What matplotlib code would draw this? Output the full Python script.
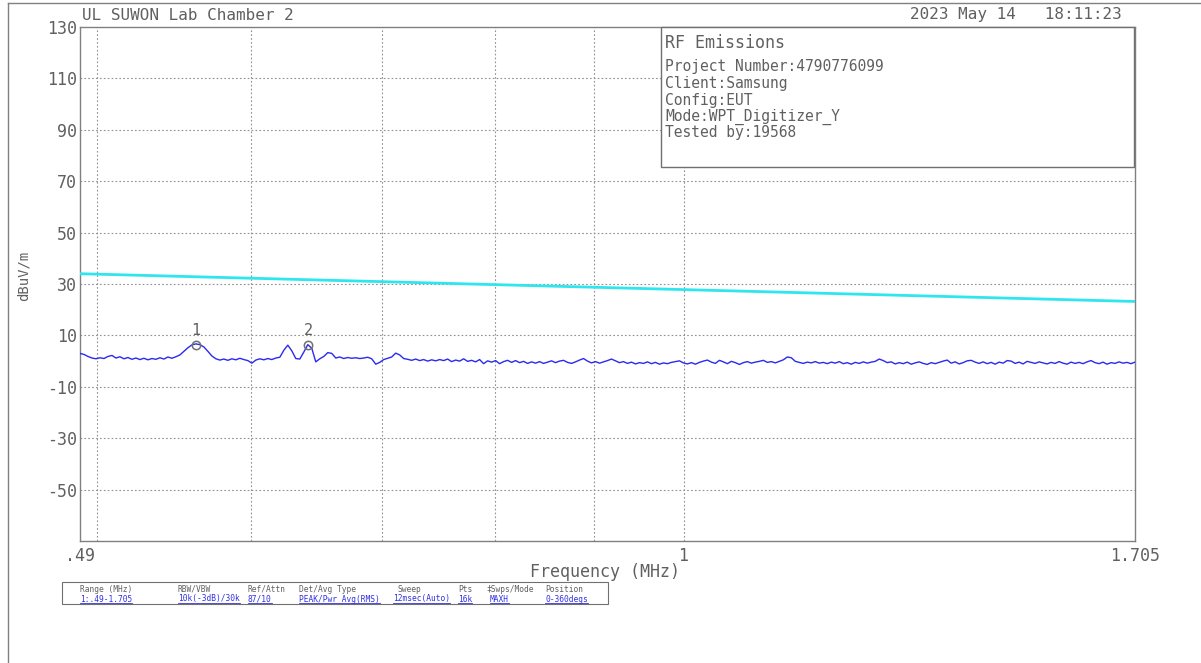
import numpy as np
import matplotlib.pyplot as plt
from matplotlib.patches import Rectangle
from matplotlib.lines import Line2D

plt.rcParams['font.family'] = ['DejaVu Sans Mono', 'DejaVu Sans']

# sweep settings
f_start, f_stop = 0.49, 1.705
y_min, y_max = -70, 130

# limit line (dBuV/m) at start and stop of the sweep
limit_freq = [0.49, 1.705]
limit_level = [34.0, 23.2]

# max-hold trace, read on a log-spaced frequency grid
trace_level = [
    3.0, 2.6, 1.8, 1.2, 0.9, 1.3, 1.0, 1.8, 2.2, 1.2, 1.7, 0.9,
    1.4, 0.7, 1.2, 0.6, 1.1, 0.5, 1.0, 0.7, 1.3, 0.8, 1.6, 1.1,
    1.7, 2.4, 3.8, 5.2, 6.3, 6.7, 6.4, 5.5, 3.8, 2.0, 0.9, 0.4,
    0.8, 0.3, 0.9, 0.5, 1.1, 0.6, 0.2, -0.8, 0.4, 0.9, 0.5, 1.0,
    0.6, 1.2, 1.5, 4.2, 6.2, 4.0, 1.0, 0.8, 3.5, 6.4, 5.0, -0.3,
    0.9, 1.8, 3.3, 3.0, 1.2, 1.6, 1.0, 1.4, 1.1, 1.3, 1.0, 1.2,
    1.5, 0.9, -1.2, -0.5, 0.6, 1.1, 1.6, 3.1, 2.4, 1.0, 0.7, 0.3,
    0.8, 0.2, 0.6, 0.0, 0.5, 0.1, 0.6, 0.2, 0.8, -0.2, 0.4, 0.0,
    0.9, -0.1, 0.3, -0.3, 0.6, -1.0, 0.1, -0.4, 0.2, -1.0, -0.2, 0.3,
    -0.5, 0.2, -0.6, -0.1, -0.9, -0.3, -0.8, -0.2, -0.9, -0.4, 0.1, -0.6,
    0.0, 0.3, -0.5, -0.9, -0.3, 0.4, 1.0, 0.0, -0.7, -0.2, -0.8, -0.3,
    0.2, 0.8, 0.1, -0.6, -0.2, -0.9, -0.4, -1.1, -0.6, -0.9, -0.3, -1.0,
    -0.5, -1.2, -0.7, -1.0, -0.5, -0.2, 0.1, -0.7, -1.1, -0.6, -1.2, -0.5,
    0.0, 0.4, -0.4, -0.9, 0.3, -0.3, -1.0, -0.1, -0.6, -1.3, -0.6, -0.2,
    -0.8, -0.4, -0.1, 0.3, -0.5, -0.2, -0.7, -0.1, 0.5, 1.6, 1.3, -0.1,
    -0.5, -0.9, -0.4, -0.7, -0.2, -0.8, -0.5, -1.0, -0.4, -0.8, -0.2, -1.0,
    -0.6, -1.2, -0.5, -0.9, -0.3, -0.8, -0.4, -0.1, 0.8, 0.2, -0.6, -0.3,
    -1.1, -0.6, -1.0, -0.4, -1.2, -0.7, -0.3, -0.9, -1.3, -0.6, -1.0, -0.5,
    0.0, 0.4, -0.8, -0.3, -1.1, -0.6, 0.1, 0.3, -0.4, -0.9, -0.3, -1.0,
    -0.5, -1.2, -0.4, -0.8, 0.2, 0.0, -0.9, -0.4, -1.1, -0.1, -0.5, -0.9,
    -0.3, -0.7, -1.1, -0.5, -0.9, -0.2, -0.8, -1.2, -0.4, -0.9, -0.5, -1.0,
    -0.3, 0.2, -0.6, -1.0, -0.4, -1.2, -0.6, -0.9, -0.3, -0.8, -0.5, -1.0,
    -0.4,
]
trace_freq = np.geomspace(f_start, f_stop, len(trace_level))

# peak markers
marker_freq = [0.562, 0.6415]
marker_level = [6.2, 6.2]
marker_name = ["1", "2"]

grid_freq = [0.5, 0.6, 0.7, 0.8, 0.9, 1.0]
grid_level = [110, 90, 70, 50, 30, 10, -10, -30, -50]
ytick_vals = [130, 110, 90, 70, 50, 30, 10, -10, -30, -50]
xtick_vals = [0.49, 1.0, 1.705]
xtick_text = [".49", "1", "1.705"]

info_title = "RF Emissions"
info_lines = ["Project Number:4790776099", "Client:Samsung", "Config:EUT",
              "Mode:WPT_Digitizer_Y", "Tested by:19568"]

table_head = ["Range (MHz)", "RBW/VBW", "Ref/Attn", "Det/Avg Type", "Sweep",
              "Pts", "\u2021Swps/Mode", "Position"]
table_vals = ["1:.49-1.705", "10k(-3dB)/30k", "87/10", "PEAK/Pwr Avg(RMS)",
              "12msec(Auto)", "16k", "MAXH", "0-360degs"]
table_head_x = [80, 178, 248, 299, 398, 458, 486, 545]
table_vals_x = [80, 178, 248, 299, 393, 458, 490, 545]

W, H = 1201, 663
gray = "#606060"
frame = "#808080"
blue_txt = "#3030e0"

fig = plt.figure(figsize=(W / 100, H / 100), dpi=100)


def fx(px):
    return px / W


def fy(py):
    return 1 - py / H


ax = fig.add_axes([fx(80), fy(541), fx(1135) - fx(80), fy(27) - fy(541)])
ax.set_xscale("log")
ax.set_xlim(f_start, f_stop)
ax.set_ylim(y_min, y_max)

for g in grid_freq:
    ax.axvline(g, color="#909090", lw=0.8, ls=(0, (1.5, 2)), zorder=1)
for g in grid_level:
    ax.axhline(g, color="#909090", lw=0.8, ls=(0, (1.5, 2)), zorder=1)

ax.plot(limit_freq, limit_level, color="#2ee6ee", lw=2.0, zorder=3)
ax.plot(trace_freq, trace_level, color="#2a2af0", lw=1.0, zorder=4)

for f, lv, nm in zip(marker_freq, marker_level, marker_name):
    ax.plot(f, lv, "o", ms=6, mfc="none", mec="#707070", mew=1.1, zorder=5)
    ax.text(f, lv + 2.6, nm, ha="center", va="bottom", fontsize=11, color=gray)

ax.set_yticks(ytick_vals)
ax.set_yticklabels([str(v) for v in ytick_vals])
ax.set_xticks(xtick_vals)
ax.set_xticklabels(xtick_text)
ax.xaxis.set_minor_locator(plt.NullLocator())
ax.tick_params(length=0, labelsize=12, labelcolor=gray, pad=2)
ax.tick_params(axis="x", pad=4)
for s in ax.spines.values():
    s.set_color(frame)
    s.set_linewidth(1.0)

# page frame
fig.add_artist(Line2D([fx(8), 1], [fy(3), fy(3)], color=frame, lw=1.0))
fig.add_artist(Line2D([fx(8), fx(8)], [fy(3), 0], color=frame, lw=1.0))

fig.text(fx(82), fy(15), "UL SUWON Lab Chamber 2", fontsize=11.5, color=gray,
         ha="left", va="center")
fig.text(fx(1122), fy(15), "2023 May 14   18:11:23", fontsize=11.5, color=gray,
         ha="right", va="center")
fig.text(fx(24), fy(276), "dBuV/m", fontsize=10, color=gray, rotation=90,
         ha="center", va="center")
fig.text(fx(605), fy(572), "Frequency (MHz)", fontsize=12, color=gray,
         ha="center", va="center")

# info box
fig.add_artist(Rectangle((fx(661), fy(167)), fx(1134) - fx(661), fy(27) - fy(167),
                         facecolor="white", edgecolor="#707070", lw=1.0, zorder=6))
fig.text(fx(665), fy(43), info_title, fontsize=12, color=gray, va="center", zorder=7)
for i, line in enumerate(info_lines):
    fig.text(fx(665), fy(67 + 16.5 * i), line, fontsize=10.5, color=gray,
             va="center", zorder=7)

# settings table
fig.add_artist(Rectangle((fx(62), fy(604)), fx(608) - fx(62), fy(582) - fy(604),
                         facecolor="none", edgecolor="#707070", lw=0.8))
for x, t in zip(table_head_x, table_head):
    fig.text(fx(x), fy(589), t, fontsize=5.7, color=gray, va="center")
val_texts = []
for x, t in zip(table_vals_x, table_vals):
    val_texts.append(fig.text(fx(x), fy(599), t, fontsize=5.7, color=blue_txt,
                              va="center"))

# underline each value in the table
fig.canvas.draw()
inv = fig.transFigure.inverted()
for t in val_texts:
    bb = t.get_window_extent()
    (x0, _), (x1, _) = inv.transform([(bb.x0, 0), (bb.x1, 0)])
    fig.add_artist(Line2D([x0, x1], [fy(603), fy(603)], color=blue_txt, lw=0.6))

fig.savefig("out.png", dpi=100)
